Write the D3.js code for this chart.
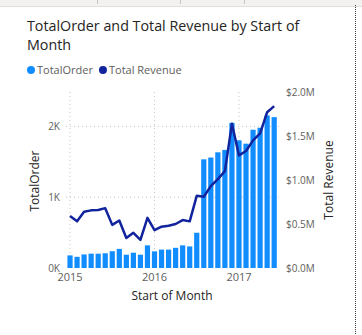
<!DOCTYPE html>
<html>
<head>
<meta charset="utf-8">
<script src="https://cdn.jsdelivr.net/npm/d3@7"></script>
<style>
  body { margin: 0; background: #fff; }
  svg text { font-family: "Open Sans", "Noto Sans", sans-serif; }
</style>
</head>
<body>
<div id="chart"></div>
<script>
// months Jan 2015 .. Jun 2017
var months = d3.timeMonths(new Date(2015, 0, 1), new Date(2017, 6, 1));
var totalOrder = [178, 158, 192, 202, 202, 208, 237, 270, 188, 216, 188, 320, 235, 260, 260,
                  285, 320, 305, 498, 1535, 1560, 1634, 1668, 2050, 1803, 1756, 1953, 1981, 2155, 2131];
var totalRevenue = [0.59, 0.53, 0.64, 0.655, 0.66, 0.68, 0.49, 0.54, 0.34, 0.40, 0.32, 0.57, 0.43, 0.47, 0.48,
                    0.50, 0.545, 0.53, 0.82, 0.81, 0.93, 1.01, 1.10, 1.64, 1.28, 1.33, 1.45, 1.53, 1.77, 1.84];
var orderTicks = [0, 1000, 2000];
var revenueTicks = [0, 0.5, 1.0, 1.5, 2.0];
var yearTicks = [new Date(2015, 0, 1), new Date(2016, 0, 1), new Date(2017, 0, 1)];

var W = 362, H = 335;
var svg = d3.select("#chart").append("svg").attr("width", W).attr("height", H);

// top toolbar strip of the report page
svg.append("rect").attr("x", 0).attr("y", 0).attr("width", W).attr("height", 6).attr("fill", "#f3f2f1");
svg.append("line").attr("x1", 0).attr("x2", W).attr("y1", 6.5).attr("y2", 6.5).attr("stroke", "#e1dfdd");
[97, 180, 244].forEach(function(x) {
    svg.append("line").attr("x1", x + 0.5).attr("x2", x + 0.5).attr("y1", 0).attr("y2", 4).attr("stroke", "#c8c6c4");
});
// dotted visual border
svg.append("line").attr("x1", 355.5).attr("x2", 355.5).attr("y1", 5).attr("y2", H)
    .attr("stroke", "#444").attr("stroke-dasharray", "1,1");

// title
var title = svg.append("text").attr("x", 27).attr("fill", "#252423").style("font-size", "14.3px");
title.append("tspan").attr("x", 27).attr("y", 31).text("TotalOrder and Total Revenue by Start of");
title.append("tspan").attr("x", 27).attr("y", 50).text("Month");

// legend
var legend = [["TotalOrder", "#118DFF"], ["Total Revenue", "#12239E"]];
var lx = 31;
legend.forEach(function(d) {
    svg.append("circle").attr("cx", lx).attr("cy", 70).attr("r", 4).attr("fill", d[1]);
    var t = svg.append("text").attr("x", lx + 6).attr("y", 74).attr("fill", "#605E5C")
        .style("font-size", "11px").text(d[0]);
    lx += 6 + t.node().getComputedTextLength() + 10;
});

// scales
var x = d3.scaleBand().domain(months).range([66.5, 277.7]).paddingInner(0.26).paddingOuter(0.13);
var yL = d3.scaleLinear().domain([0, 2500]).range([268, 91]);
var yR = d3.scaleLinear().domain([0, 2.0]).range([268, 92]);

// gridlines
var grid = svg.append("g");
grid.selectAll(".hg").data(orderTicks.slice(1)).enter().append("line")
    .attr("x1", 66).attr("x2", 279).attr("y1", function(d) { return yL(d); }).attr("y2", function(d) { return yL(d); })
    .attr("stroke", "#c8c6c4").attr("stroke-dasharray", "1,3");
grid.selectAll(".vg").data(yearTicks).enter().append("line")
    .attr("x1", function(d) { return x(d) + x.bandwidth() / 2; })
    .attr("x2", function(d) { return x(d) + x.bandwidth() / 2; })
    .attr("y1", 92).attr("y2", 268)
    .attr("stroke", "#c8c6c4").attr("stroke-dasharray", "1,3");

// bars
svg.selectAll(".bar").data(months).enter().append("rect")
    .attr("x", function(d) { return x(d); })
    .attr("width", x.bandwidth())
    .attr("y", function(d, i) { return yL(totalOrder[i]); })
    .attr("height", function(d, i) { return yL(0) - yL(totalOrder[i]); })
    .attr("fill", "#118DFF");

// revenue line
var line = d3.line()
    .x(function(d, i) { return x(months[i]) + x.bandwidth() / 2; })
    .y(function(d) { return yR(d); });
svg.append("path").datum(totalRevenue).attr("d", line)
    .attr("fill", "none").attr("stroke", "#12239E").attr("stroke-width", 2.5).attr("stroke-linejoin", "round");

// axes
function styleAxis(g) {
    g.select(".domain").remove();
    g.selectAll(".tick line").remove();
    g.selectAll("text").attr("fill", "#605E5C").style("font-size", "10px").style("font-family", null);
}
svg.append("g").attr("transform", "translate(60,0)")
    .call(d3.axisLeft(yL).tickValues(orderTicks).tickSize(0).tickPadding(0)
        .tickFormat(function(d) { return (d / 1000) + "K"; }))
    .call(styleAxis);
svg.append("g").attr("transform", "translate(286,0)")
    .call(d3.axisRight(yR).tickValues(revenueTicks).tickSize(0).tickPadding(0)
        .tickFormat(function(d) { return "$" + d3.format(".1f")(d) + "M"; }))
    .call(styleAxis);
svg.append("g").attr("transform", "translate(0,271)")
    .call(d3.axisBottom(x).tickValues(yearTicks).tickSize(0).tickPadding(0)
        .tickFormat(d3.timeFormat("%Y")))
    .call(styleAxis)
    .selectAll("text").attr("dy", "0.9em").style("font-size", "11px");

// axis titles
svg.append("text").attr("transform", "translate(39,181) rotate(-90)").attr("text-anchor", "middle")
    .attr("fill", "#252423").style("font-size", "12px").text("TotalOrder");
svg.append("text").attr("transform", "translate(333,180) rotate(-90)").attr("text-anchor", "middle")
    .attr("fill", "#252423").style("font-size", "12px").text("Total Revenue");
svg.append("text").attr("x", 172).attr("y", 300).attr("text-anchor", "middle")
    .attr("fill", "#252423").style("font-size", "12px").text("Start of Month");
</script>
</body>
</html>
